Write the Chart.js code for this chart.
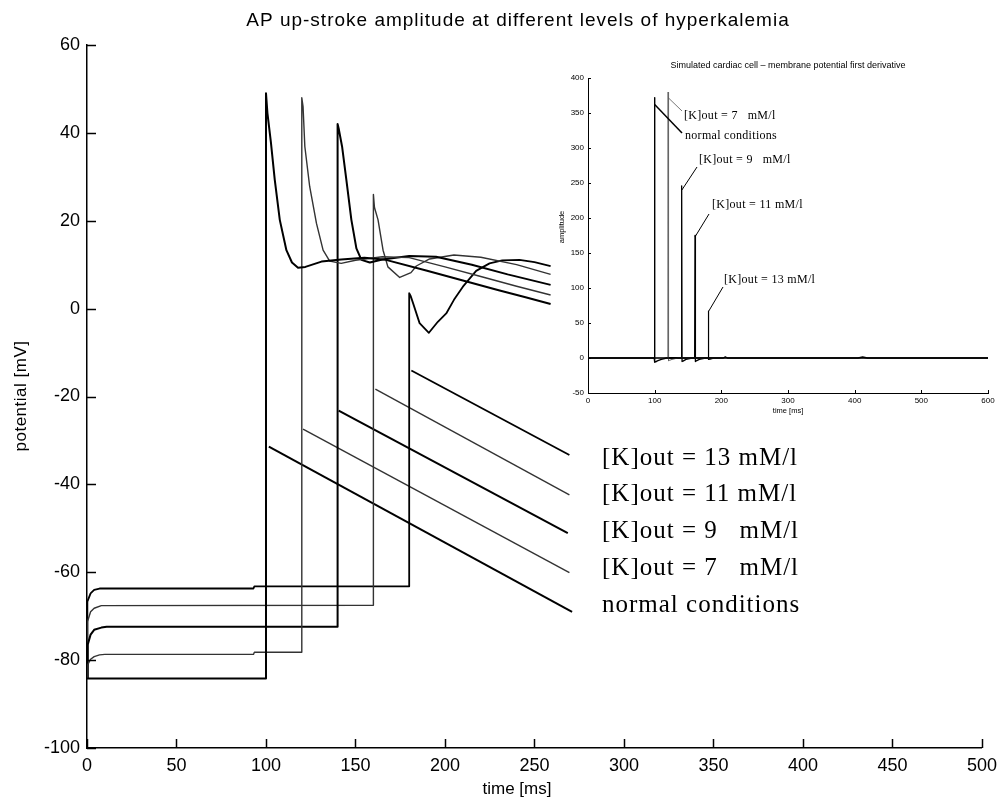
<!DOCTYPE html>
<html><head><meta charset="utf-8">
<script src="https://cdn.jsdelivr.net/npm/chart.js@4.4.1/dist/chart.umd.min.js"></script>
<style>
html,body{margin:0;padding:0;background:#fff;}
#wrap{position:relative;width:1004px;height:800px;overflow:hidden;}
#main{position:absolute;left:0;top:0;}
#inset{position:absolute;left:540px;top:50px;}
</style></head><body>
<div id="wrap"><canvas id="main" width="1004" height="800"></canvas><canvas id="inset" width="464" height="380"></canvas></div>
<script>
// ---------- main chart data (time in ms, potential in mV) ----------
const titleText = 'AP up-stroke amplitude at different levels of hyperkalemia';
const xTitle = 'time [ms]';
const yTitle = 'potential [mV]';
const seriesLabels = ['[K]out = 13 mM/l', '[K]out = 11 mM/l', '[K]out = 9   mM/l', '[K]out = 7   mM/l', 'normal conditions'];

const tNormal = [0, 0.3, 2, 100, 100, 100.8, 102.7, 104.9, 107.7, 111.4, 114.5, 117.9, 122, 131, 142, 155, 167, 190, 210, 230, 245, 259];
const vNormal = [-84.2, -84.2, -84.2, -84.2, 49, 44.5, 38, 29.3, 20.2, 13.3, 10.5, 9.3, 9.5, 10.7, 11.2, 11.6, 11.1, 8.6, 6.4, 4.2, 2.6, 1.05];

const t7 = [0, 0.5, 2, 4, 7, 10, 93, 93.5, 120, 120, 120.7, 121.7, 124.4, 128.2, 131.9, 135.6, 142, 150, 165, 180, 200, 220, 240, 259];
const v7 = [-84, -81, -79.8, -79.2, -78.8, -78.7, -78.7, -78.2, -78.2, 48, 46, 36.9, 27.8, 19.4, 13.3, 10.8, 10.3, 11, 11.8, 11.6, 9.5, 7.3, 5.1, 3.1];

const t9 = [0, 0.4, 2, 4, 8, 11, 140, 140, 140.6, 142.5, 144.9, 147.7, 150.5, 153.3, 158, 165, 180, 195, 215, 235, 259];
const v9 = [-84, -76.5, -74.2, -73.1, -72.6, -72.4, -72.4, 42, 41, 36.9, 29.3, 20.2, 13.7, 11.1, 10.5, 11.2, 12, 11.8, 10, 7.8, 5.4];

const t11 = [0, 0.3, 2, 4, 8, 160, 160, 160.6, 162.6, 165.4, 168.1, 174.7, 181, 184, 191.4, 205, 220, 240, 259];
const v11 = [-84, -71.2, -69, -68.2, -67.6, -67.5, 26, 23, 20.2, 13.3, 9.5, 7.1, 8.2, 9.7, 11.3, 12.2, 11.7, 10, 7.8];

const t13 = [0, 0.2, 2, 4, 7, 93, 93.5, 180, 180, 180.8, 182.2, 185.8, 191, 196, 200.7, 205, 210, 217.4, 224.9, 232, 241.6, 250, 259];
const v13 = [-84, -66.7, -64.8, -64, -63.7, -63.7, -63.2, -63.2, 3.5, 2.9, 1.2, -3.3, -5.5, -3, -1.1, 2, 5, 8.6, 10.3, 11, 11.1, 10.6, 9.7];

// straight sloped traces starting at each up-stroke
const slopeNormalT = [101.6, 271], slopeNormalV = [-31.4, -69];
const slope7T = [120.7, 269.5],   slope7V = [-27.4, -60.1];
const slope9T = [140.6, 268.6],   slope9V = [-23.2, -51.1];
const slope11T = [161.1, 269.5],  slope11V = [-18.3, -42.4];
const slope13T = [181.2, 269.5],  slope13V = [-14.1, -33.3];

// ---------- inset data (first derivative) ----------
const insetTitle = 'Simulated cardiac cell \u2013 membrane potential first derivative';
const insetXTitle = 'time [ms]';
const insetYTitle = 'amplitude';
const insetLabels = ['[K]out = 7   mM/l', 'normal conditions', '[K]out = 9   mM/l', '[K]out = 11 mM/l', '[K]out = 13 mM/l'];
const insetAnchorT = [120.2, 100, 140.8, 160.5, 180.5];
const insetAnchorV = [372, 362, 240, 173, 66];

const dNormalT = [0, 99.3, 99.7, 100.4, 101.5, 104, 110, 118, 203, 206, 209, 405, 412, 419, 600];
const dNormalV = [0, 0, 372, -6, -5.5, -4, -2, 0, 0, 1.5, 0, 0, 1.5, 0, 0];
const d7T = [0, 119.8, 120.2, 120.8, 122, 126, 135, 600];
const d7V = [0, 0, 380, -4, -3.5, -2, 0, 0];
const d9T = [0, 140, 140.5, 141.1, 142.5, 147, 156, 600];
const d9V = [0, 0, 246, -5, -4.5, -2, 0, 0];
const d11T = [0, 160, 160.5, 161.1, 162.5, 167, 176, 600];
const d11V = [0, 0, 175, -5, -4, -2, 0, 0];
const d13T = [0, 180, 180.5, 181.1, 183, 190, 600];
const d13V = [0, 0, 67, -2, -1.5, 0, 0];

// ---------- helpers ----------
const pts = (t, v) => t.map((x, i) => ({x: x, y: v[i]}));
const ds = (t, v, color, w, dash) => ({data: pts(t, v), borderColor: color, borderWidth: w, borderDash: dash || [], pointRadius: 0, tension: 0, fill: false, borderJoinStyle: 'round', borderCapStyle: 'butt'});

const inwardTicks = {
  id: 'inwardTicks',
  afterDraw(chart, args, opts) {
    const ctx = chart.ctx, a = chart.chartArea;
    const xs = chart.scales.x, ys = chart.scales.y;
    ctx.save();
    ctx.strokeStyle = '#000';
    ctx.lineWidth = opts.width;
    xs.ticks.forEach(t => { const p = Math.round(xs.getPixelForValue(t.value)) + 0.5; ctx.beginPath(); ctx.moveTo(p, a.bottom); ctx.lineTo(p, a.bottom - opts.len); ctx.stroke(); });
    ys.ticks.forEach(t => { const p = Math.round(ys.getPixelForValue(t.value)) + 0.5; ctx.beginPath(); ctx.moveTo(a.left, p); ctx.lineTo(a.left + opts.len, p); ctx.stroke(); });
    ctx.restore();
  }
};

const mainText = {
  id: 'mainText',
  afterDraw(chart) {
    const ctx = chart.ctx;
    ctx.save();
    ctx.fillStyle = '#000';
    ctx.textAlign = 'center';
    ctx.textBaseline = 'middle';
    ctx.font = '19px "Liberation Sans", Arial, sans-serif';
    ctx.letterSpacing = '1px';
    ctx.fillText(titleText, 518, 21);
    ctx.letterSpacing = '0px';
    ctx.font = '17px "Liberation Sans", Arial, sans-serif';
    ctx.fillText(xTitle, 517, 789);
    ctx.save();
    ctx.translate(21, 396);
    ctx.rotate(-Math.PI / 2);
    ctx.letterSpacing = '0.5px';
    ctx.fillText(yTitle, 0, 0);
    ctx.restore();
    ctx.textAlign = 'left';
    ctx.font = '25px "Liberation Serif", "Times New Roman", serif';
    ctx.letterSpacing = '1px';
    const ys = [458, 494, 531, 568, 605];
    seriesLabels.forEach((s, i) => ctx.fillText(s, 602, ys[i]));
    ctx.restore();
  }
};

const insetText = {
  id: 'insetText',
  afterDraw(chart) {
    const ctx = chart.ctx, xs = chart.scales.x, ys = chart.scales.y;
    ctx.save();
    ctx.fillStyle = '#000';
    ctx.textAlign = 'center';
    ctx.textBaseline = 'middle';
    ctx.font = '9px "Liberation Sans", Arial, sans-serif';
    ctx.fillText(insetTitle, 248, 16);
    ctx.font = '7.5px "Liberation Sans", Arial, sans-serif';
    ctx.fillText(insetXTitle, 248, 361);
    ctx.save();
    ctx.translate(22, 177);
    ctx.rotate(-Math.PI / 2);
    ctx.fillText(insetYTitle, 0, 0);
    ctx.restore();
    // annotations with leader lines
    const ends = [[142, 61], [142, 83], [157, 117], [169, 164], [183, 237]];
    const textPos = [[144, 66], [145, 86], [159, 110], [172, 155], [184, 230]];
    const widths = [0.8, 1.5, 1, 1, 1];
    ctx.font = '12px "Liberation Serif", "Times New Roman", serif';
    ctx.letterSpacing = '0.3px';
    ctx.textAlign = 'left';
    insetLabels.forEach((s, i) => {
      const x0 = xs.getPixelForValue(insetAnchorT[i]), y0 = ys.getPixelForValue(insetAnchorV[i]);
      ctx.beginPath();
      ctx.lineWidth = widths[i];
      ctx.strokeStyle = i === 0 ? '#555' : '#000';
      ctx.moveTo(x0, y0);
      ctx.lineTo(ends[i][0], ends[i][1]);
      ctx.stroke();
      ctx.fillText(s, textPos[i][0], textPos[i][1]);
    });
    ctx.restore();
  }
};

const axisFont = {family: '"Liberation Sans", Arial, sans-serif', size: 18};
new Chart(document.getElementById('main'), {
  type: 'line',
  data: {datasets: [
    ds(tNormal, vNormal, '#000', 2),
    ds(t7, v7, '#333', 1.4),
    ds(t9, v9, '#000', 2),
    ds(t11, v11, '#333', 1.4),
    ds(t13, v13, '#000', 1.8),
    ds(slopeNormalT, slopeNormalV, '#000', 2),
    ds(slope7T, slope7V, '#333', 1.4),
    ds(slope9T, slope9V, '#000', 2),
    ds(slope11T, slope11V, '#333', 1.4),
    ds(slope13T, slope13V, '#000', 1.8)
  ]},
  options: {
    responsive: false, animation: false, devicePixelRatio: 1,
    layout: {padding: {left: 0, top: 45, right: 21, bottom: 0}},
    plugins: {legend: {display: false}, tooltip: {enabled: false}, inwardTicks: {len: 9, width: 1.5}},
    scales: {
      x: {type: 'linear', min: 0, max: 500,
        ticks: {stepSize: 50, color: '#000', font: axisFont, padding: 7, maxRotation: 0, autoSkip: false},
        grid: {display: true, drawOnChartArea: false, drawTicks: false},
        border: {display: true, color: '#000', width: 1.5},
        afterFit(s) { s.height = 52; }},
      y: {type: 'linear', min: -100, max: 60,
        ticks: {stepSize: 20, color: '#000', font: axisFont, padding: 7, autoSkip: false},
        grid: {display: true, drawOnChartArea: false, drawTicks: false},
        border: {display: true, color: '#000', width: 1.5},
        afterFit(s) { s.width = 87; }}
    }
  },
  plugins: [inwardTicks, mainText]
});

const insetFont = {family: '"Liberation Sans", Arial, sans-serif', size: 8};
new Chart(document.getElementById('inset'), {
  type: 'line',
  data: {datasets: [
    ds(dNormalT, dNormalV, '#000', 1.4),
    ds(d7T, d7V, '#666', 1),
    ds(d9T, d9V, '#000', 1.3),
    ds(d11T, d11V, '#000', 1.3),
    ds(d13T, d13V, '#000', 1.2)
  ]},
  options: {
    responsive: false, animation: false, devicePixelRatio: 1,
    layout: {padding: {left: 0, top: 28, right: 16, bottom: 0}},
    plugins: {legend: {display: false}, tooltip: {enabled: false}, inwardTicks: {len: 3, width: 1}},
    scales: {
      x: {type: 'linear', min: 0, max: 600,
        ticks: {stepSize: 100, color: '#000', font: insetFont, padding: 3, maxRotation: 0, autoSkip: false},
        grid: {display: true, drawOnChartArea: false, drawTicks: false},
        border: {display: true, color: '#000', width: 1},
        afterFit(s) { s.height = 37; }},
      y: {type: 'linear', min: -50, max: 400,
        ticks: {stepSize: 50, color: '#000', font: insetFont, padding: 4, autoSkip: false},
        grid: {display: true, drawOnChartArea: false, drawTicks: false},
        border: {display: true, color: '#000', width: 1},
        afterFit(s) { s.width = 48; }}
    }
  },
  plugins: [inwardTicks, insetText]
});
</script>
</body></html>
